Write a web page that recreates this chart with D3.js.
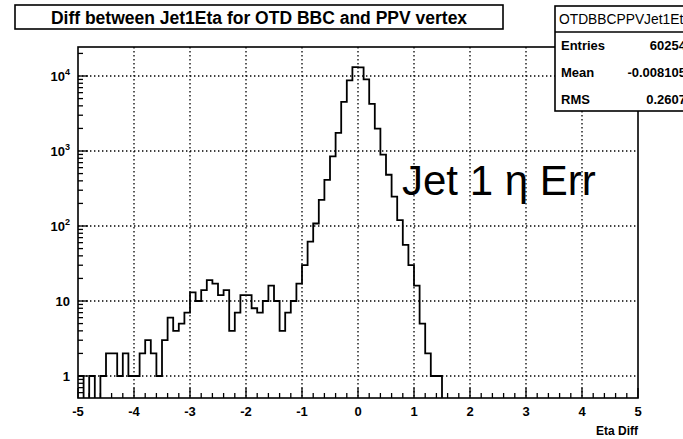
<!DOCTYPE html>
<html>
<head>
<meta charset="utf-8">
<script src="https://cdn.jsdelivr.net/npm/d3@7"></script>
<style>
  body { margin: 0; background: #fff; }
  text { font-family: "Liberation Sans", Arial, sans-serif; }
</style>
</head>
<body>
<svg id="chart" width="683" height="439"></svg>
<script>
// Histogram binning: 100 bins of width 0.1 over [-5, 5]
const binLow = -5;
const binHigh = 5;
const binCount = 100;

// Bin contents, left to right
const counts = [
  1, 0, 1, 0, 1, 2, 2, 1, 2, 1,
  1, 2, 3, 2, 1, 3, 6, 4, 5, 7,
  13, 10, 14, 19, 17, 12, 14, 4, 7, 12,
  12, 8, 7, 10, 16, 10, 4, 7, 10, 17,
  30, 62, 108, 223, 413, 849, 1742, 4530, 8740, 13150,
  13014, 9020, 4260, 1990, 894, 482, 247, 120, 56, 30,
  16, 5, 2, 1, 1, 0, 0, 0, 0, 0,
  0, 0, 0, 0, 0, 0, 0, 0, 0, 0,
  0, 0, 0, 0, 0, 0, 0, 0, 0, 0,
  0, 0, 0, 0, 0, 0, 0, 0, 0, 0
];

const xTickValues = [-5, -4, -3, -2, -1, 0, 1, 2, 3, 4, 5];
const yTickValues = [1, 10, 100, 1000, 10000];
const yRange = [0.509, 24360];

const titleText = "Diff between Jet1Eta for OTD BBC and PPV vertex";
const statsName = "OTDBBCPPVJet1Eta";
const statsLabels = ["Entries", "Mean", "RMS"];
const statsValues = ["60254", "-0.008105", "0.2607"];
const xAxisTitle = "Eta Diff";
const noteText = "Jet 1 η Err";

const svg = d3.select("#chart");
const frame = { left: 78, right: 638, top: 47, bottom: 398 };

const x = d3.scaleLinear().domain([binLow, binHigh]).range([frame.left, frame.right]);
const y = d3.scaleLog().domain(yRange).range([frame.bottom, frame.top]);

svg.append("rect").attr("width", 683).attr("height", 439).attr("fill", "#fff");

svg.append("defs").append("clipPath").attr("id", "frameClip")
  .append("rect")
  .attr("x", frame.left).attr("y", frame.top)
  .attr("width", frame.right - frame.left).attr("height", frame.bottom - frame.top);

// Dotted grid at the major ticks
const grid = svg.append("g").attr("stroke", "#000").attr("stroke-width", 1.3)
  .attr("stroke-dasharray", "1.4,2.6");
grid.selectAll("line.gx")
  .data(xTickValues.filter(v => v > binLow && v < binHigh))
  .join("line")
  .attr("x1", d => x(d)).attr("x2", d => x(d))
  .attr("y1", frame.top).attr("y2", frame.bottom);
grid.selectAll("line.gy")
  .data(yTickValues)
  .join("line")
  .attr("y1", d => y(d)).attr("y2", d => y(d))
  .attr("x1", frame.left).attr("x2", frame.right);

// Histogram outline as steps; empty bins drop below the frame
const binWidth = (binHigh - binLow) / binCount;
const stepPoints = [];
counts.forEach((c, i) => {
  const lo = binLow + i * binWidth;
  stepPoints.push([lo, c], [lo + binWidth, c]);
});
const histLine = d3.line()
  .x(d => x(d[0]))
  .y(d => d[1] > 0 ? y(d[1]) : frame.bottom + 3);
svg.append("path")
  .attr("clip-path", "url(#frameClip)")
  .attr("d", histLine(stepPoints))
  .attr("fill", "none").attr("stroke", "#000").attr("stroke-width", 1.8)
  .attr("stroke-linejoin", "miter");

// Frame
svg.append("rect")
  .attr("x", frame.left).attr("y", frame.top)
  .attr("width", frame.right - frame.left).attr("height", frame.bottom - frame.top)
  .attr("fill", "none").attr("stroke", "#000").attr("stroke-width", 1.6);

// X ticks: primary at integers, secondary every 0.2
const xMinor = d3.range(0, 51).map(i => binLow + i * 0.2);
svg.append("g").selectAll("line")
  .data(xMinor)
  .join("line")
  .attr("x1", d => x(d)).attr("x2", d => x(d))
  .attr("y1", frame.bottom)
  .attr("y2", d => frame.bottom - (Math.abs(d - Math.round(d)) < 1e-6 ? 10 : 5))
  .attr("stroke", "#000").attr("stroke-width", 1.3);

svg.append("g").selectAll("text")
  .data(xTickValues)
  .join("text")
  .attr("x", d => x(d)).attr("y", 416)
  .attr("text-anchor", "middle")
  .attr("font-size", 13).attr("font-weight", "bold")
  .text(d => d);

svg.append("text")
  .attr("x", frame.right).attr("y", 435)
  .attr("text-anchor", "end")
  .attr("font-size", 12).attr("font-weight", "bold")
  .text(xAxisTitle);

// Y ticks on the log axis
const yMinor = [];
for (let e = -1; e <= 4; e++) {
  for (let m = 1; m <= 9; m++) {
    const v = m * Math.pow(10, e);
    if (v >= yRange[0] && v <= yRange[1]) yMinor.push({ v, major: m === 1 });
  }
}
svg.append("g").selectAll("line")
  .data(yMinor)
  .join("line")
  .attr("y1", d => y(d.v)).attr("y2", d => y(d.v))
  .attr("x1", frame.left)
  .attr("x2", d => frame.left + (d.major ? 10 : 5))
  .attr("stroke", "#000").attr("stroke-width", 1.3);

const yLabels = svg.append("g").selectAll("text")
  .data(yTickValues)
  .join("text")
  .attr("x", 70).attr("y", d => y(d) + 5)
  .attr("text-anchor", "end")
  .attr("font-size", 13).attr("font-weight", "bold");
yLabels.each(function (d) {
  const t = d3.select(this);
  const exp = Math.round(Math.log10(d));
  if (exp <= 1) { t.text(d); return; }
  t.append("tspan").text("10");
  t.append("tspan").attr("font-size", 9).attr("dy", -6).text(exp);
});

// Statistics box, running past the right edge of the canvas
const stats = svg.append("g");
stats.append("rect")
  .attr("x", 555).attr("y", 6).attr("width", 140).attr("height", 105)
  .attr("fill", "#fff").attr("stroke", "#000").attr("stroke-width", 1.6);
stats.append("line")
  .attr("x1", 555).attr("x2", 695).attr("y1", 32).attr("y2", 32)
  .attr("stroke", "#000").attr("stroke-width", 1.3);
stats.append("text")
  .attr("x", 559).attr("y", 24)
  .attr("font-size", 13.8)
  .text(statsName);
stats.selectAll("text.lab")
  .data(statsLabels)
  .join("text")
  .attr("x", 561).attr("y", (d, i) => 50 + i * 27)
  .attr("font-size", 13).attr("font-weight", "bold")
  .text(d => d);
stats.selectAll("text.val")
  .data(statsValues)
  .join("text")
  .attr("x", 686).attr("y", (d, i) => 50 + i * 27)
  .attr("text-anchor", "end")
  .attr("font-size", 13).attr("font-weight", "bold")
  .text(d => d);

// Title box
svg.append("rect")
  .attr("x", 15).attr("y", 5).attr("width", 488).attr("height", 24)
  .attr("fill", "#fff").attr("stroke", "#000").attr("stroke-width", 1.6);
svg.append("text")
  .attr("x", 259).attr("y", 23.5)
  .attr("text-anchor", "middle")
  .attr("font-size", 17.5).attr("font-weight", "bold")
  .text(titleText);

// Annotation
svg.append("text")
  .attr("x", 402).attr("y", 195)
  .attr("font-family", "Lato, 'Open Sans', sans-serif")
  .attr("font-size", 42)
  .text(noteText);
</script>
</body>
</html>
